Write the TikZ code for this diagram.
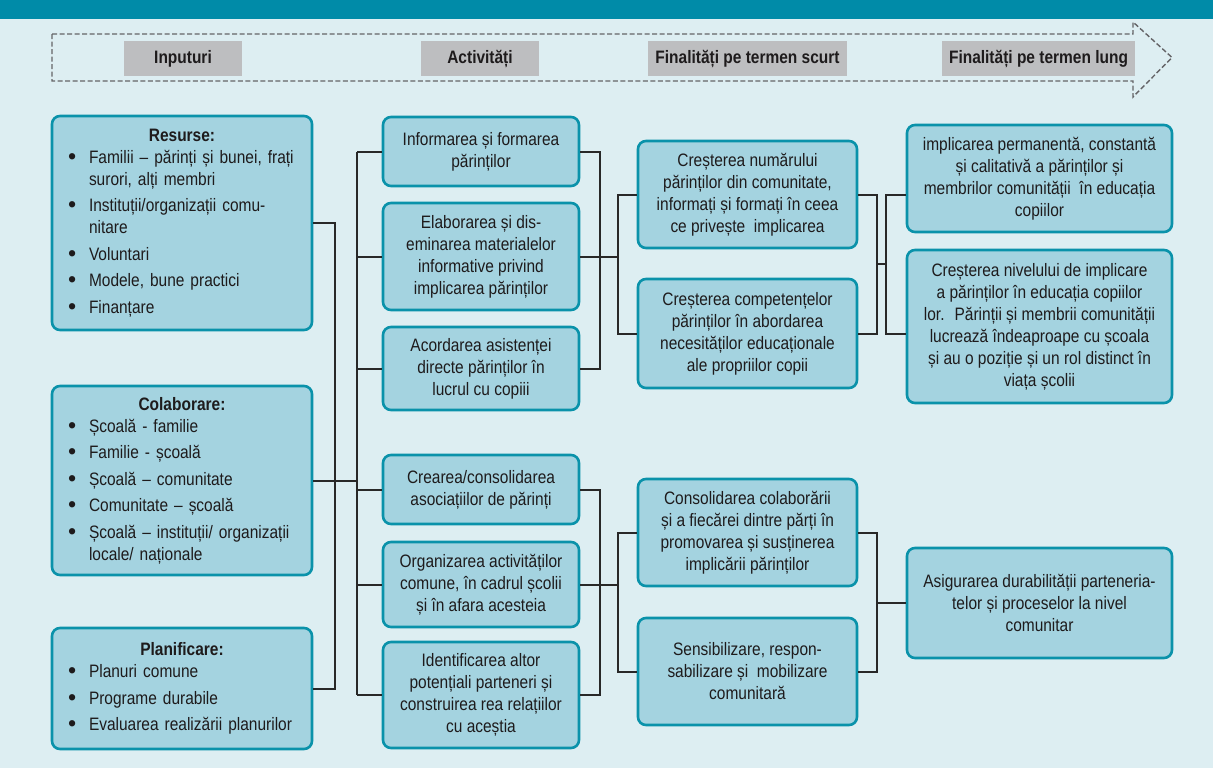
\documentclass[tikz,border=0pt]{standalone}
\usepackage{fontspec}
\usepackage{graphicx}
\setmainfont{Liberation Sans}[FakeStretch=0.86]
\usetikzlibrary{calc}

\definecolor{pagebg}{RGB}{221,238,242}
\definecolor{topbar}{RGB}{0,139,168}
\definecolor{boxfill}{RGB}{164,211,224}
\definecolor{boxline}{RGB}{10,146,170}
\definecolor{hdrgray}{RGB}{189,190,192}
\definecolor{txt}{RGB}{30,27,28}
\definecolor{linec}{RGB}{40,40,40}
\definecolor{dashc}{RGB}{100,100,103}

% bullet list helpers for the input boxes
\newcommand{\dotmark}{\raisebox{-1.2pt}{\scalebox{1.5}[1.3]{•}}}
\newcommand{\boxtitle}[1]{\noindent\makebox[\linewidth]{\bfseries #1}\par}
\newcommand{\firstitem}[1]{\hangindent=21pt\hangafter=1\noindent\makebox[21pt][l]{\dotmark}#1\par}
\newcommand{\nextitem}[1]{\vspace{4.5pt}\hangindent=21pt\hangafter=1\noindent\makebox[21pt][l]{\dotmark}#1\par}

\tikzset{
  box/.style={draw=boxline, line width=2.6pt, fill=boxfill, rounded corners=8pt,
    align=center, text=txt, inner sep=0pt, font=\fontsize{18}{22}\selectfont},
  listbox/.style={box, align=left, text width=228pt, minimum width=260pt},
  actbox/.style={box, minimum width=196pt},
  shortbox/.style={box, minimum width=219pt},
  longbox/.style={box, minimum width=265pt},
  hdr/.style={fill=hdrgray, text=txt, inner sep=0pt, minimum height=35pt,
    font=\fontsize{18}{22}\selectfont\bfseries},
  link/.style={draw=linec, line width=2pt},
}

\begin{document}
\begin{tikzpicture}[x=1pt, y=-1pt]
\useasboundingbox (0,0) rectangle (1213,768);
\fill[pagebg] (0,0) rectangle (1213,768);
\fill[topbar] (0,0) rectangle (1213,19);

% dashed timeline arrow
\draw[dashc, line width=1.4pt, dash pattern=on 5pt off 2.5pt, line join=miter]
  (52,34) -- (1133,34) -- (1133,22) -- (1172,57.5) -- (1133,97) -- (1133,81)
  -- (52,81) -- cycle;

% column headers
\node[hdr, minimum width=118pt] (h1) at (183,58.5) {Inputuri};
\node[hdr, minimum width=118pt] (h2) at (480,58.5) {Activități};
\node[hdr, minimum width=199pt] (h3) at (747.5,58.5) {Finalități pe termen scurt};
\node[hdr, minimum width=193pt] (h4) at (1038.5,58.5) {Finalități pe termen lung};

% inputs
\node[listbox, minimum height=214pt] (R) at (182,223) {%
  \boxtitle{Resurse:}
  \firstitem{Familii – părinți și bunei, frați\newline surori, alți membri}
  \nextitem{Instituții/organizații comu-\newline nitare}
  \nextitem{Voluntari}
  \nextitem{Modele, bune practici}
  \nextitem{Finanțare}};
\node[listbox, minimum height=189pt] (C) at (182,480.5) {%
  \boxtitle{Colaborare:}
  \firstitem{Școală - familie}
  \nextitem{Familie - școală}
  \nextitem{Școală – comunitate}
  \nextitem{Comunitate – școală}
  \nextitem{Școală – instituții/ organizații\newline locale/ naționale}};
\node[listbox, minimum height=121pt] (P) at (182,688.5) {%
  \boxtitle{Planificare:}
  \firstitem{Planuri comune}
  \nextitem{Programe durabile}
  \nextitem{Evaluarea realizării planurilor}};

% activities
\node[actbox, minimum height=69pt]  (A1) at (481,151.5) {Informarea și formarea\\părinților};
\node[actbox, minimum height=107pt] (A2) at (481,256.5) {Elaborarea și dis-\\eminarea materialelor\\informative privind\\implicarea părinților};
\node[actbox, minimum height=83pt]  (A3) at (481,368.5) {Acordarea asistenței\\directe părinților în\\lucrul cu copiii};
\node[actbox, minimum height=69pt]  (A4) at (481,489.5) {Crearea/consolidarea\\asociațiilor de părinți};
\node[actbox, minimum height=85pt]  (A5) at (481,584.5) {Organizarea activităților\\comune, în cadrul școlii\\și în afara acesteia};
\node[actbox, minimum height=106pt] (A6) at (481,695) {Identificarea altor\\potențiali parteneri și\\construirea rea relațiilor\\cu aceștia};

% short-term outcomes
\node[shortbox, minimum height=107pt] (S1) at (747.5,194.5) {Creșterea numărului\\părinților din comunitate,\\informați și formați în ceea\\ce privește \ implicarea};
\node[shortbox, minimum height=109pt] (S2) at (747.5,333.5) {Creșterea competențelor\\părinților în abordarea\\necesităților educaționale\\ale propriilor copii};
\node[shortbox, minimum height=107pt] (S3) at (747.5,532.5) {Consolidarea colaborării\\și a fiecărei dintre părți în\\promovarea și susținerea\\implicării părinților};
\node[shortbox, minimum height=107pt] (S4) at (747.5,671.5) {Sensibilizare, respon-\\sabilizare și \ mobilizare\\comunitară};

% long-term outcomes
\node[longbox, minimum height=107pt] (L1) at (1039.5,178.5) {implicarea permanentă, constantă\\și calitativă a părinților și\\membrilor comunității \ în educația\\copiilor};
\node[longbox, minimum height=153pt] (L2) at (1039.5,326.5) {Creșterea nivelului de implicare\\a părinților în educația copiilor\\lor. \ Părinții și membrii comunității\\lucrează îndeaproape cu școala\\și au o poziție și un rol distinct în\\viața școlii};
\node[longbox, minimum height=110pt] (L3) at (1039.5,603) {Asigurarea durabilității parteneria-\\telor și proceselor la nivel\\comunitar};

% bracket lines
\coordinate (bIn) at (335,0);
\coordinate (tAct) at (357,0);
\coordinate (bAct) at (600,0);
\coordinate (bAct2) at (618,0);
\coordinate (bSh) at (877,0);
\coordinate (bSh2) at (886,0);
\coordinate (mS) at ($(S1.east)!0.5!(S2.east)$);

% inputs -> activities
\draw[link] (R.east) -- (R.east -| bIn) -- (P.east -| bIn) -- (P.east);
\draw[link] (C.east) -- (C.east -| tAct);
\draw[link] (A1.west -| tAct) -- (A6.west -| tAct);
\foreach \a in {A1,A2,A3,A4,A5,A6}
  \draw[link] (\a.west -| tAct) -- (\a.west);

% activities -> short-term outcomes (upper group)
\draw[link] (A1.east) -- (A1.east -| bAct) -- (A3.east -| bAct) -- (A3.east);
\draw[link] (A2.east) -- (A2.east -| bAct2);
\draw[link] (S1.west) -- (S1.west -| bAct2) -- (S2.west -| bAct2) -- (S2.west);

% activities -> short-term outcomes (lower group)
\draw[link] (A4.east) -- (A4.east -| bAct) -- (A6.east -| bAct) -- (A6.east);
\draw[link] (A5.east) -- (A5.east -| bAct2);
\draw[link] (S3.west) -- (S3.west -| bAct2) -- (S4.west -| bAct2) -- (S4.west);

% short-term -> long-term (upper group)
\draw[link] (S1.east) -- (S1.east -| bSh) -- (S2.east -| bSh) -- (S2.east);
\draw[link] (mS -| bSh) -- (mS -| bSh2);
\draw[link] (L1.west |- S1.east) -- (S1.east -| bSh2) -- (S2.east -| bSh2) -- (L2.west |- S2.east);

% short-term -> long-term (lower group)
\draw[link] (S3.east) -- (S3.east -| bSh) -- (S4.east -| bSh) -- (S4.east);
\draw[link] (L3.west -| bSh) -- (L3.west);
\end{tikzpicture}
\end{document}
